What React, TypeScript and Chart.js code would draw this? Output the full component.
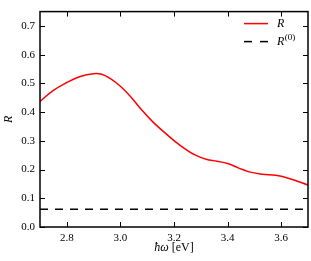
import React, { useEffect, useRef } from "react";
import { Chart, registerables } from "chart.js";

Chart.register(...registerables);

const redX = [2.70, 2.75, 2.80, 2.85, 2.90, 2.93, 2.96, 3.00, 3.04, 3.08, 3.12, 3.16, 3.20, 3.24, 3.28, 3.32, 3.36, 3.40, 3.44, 3.48, 3.53, 3.58, 3.63, 3.70];
const redY = [0.437, 0.476, 0.503, 0.524, 0.534, 0.532, 0.518, 0.49, 0.452, 0.407, 0.367, 0.333, 0.301, 0.273, 0.25, 0.236, 0.229, 0.221, 0.206, 0.192, 0.184, 0.18, 0.169, 0.146];
const baseX = [2.7, 3.7];
const baseY = [0.062, 0.062];
const xTicks = [2.8, 3.0, 3.2, 3.4, 3.6];
const yTicks = [0.0, 0.1, 0.2, 0.3, 0.4, 0.5, 0.6, 0.7];
const legendLabels = ["R", "R", "(0)"];

const SERIF = "'Liberation Serif', 'DejaVu Serif', serif";

const framePlugin = {
  id: "frame",
  afterDatasetsDraw(chart: any) {
    const { ctx, chartArea: a, scales } = chart;
    const xs = scales.x;
    const ys = scales.y;
    ctx.save();
    ctx.strokeStyle = "#000";
    ctx.lineWidth = 1;
    const tl = 5;
    ctx.beginPath();
    for (const v of xTicks) {
      const px = Math.round(xs.getPixelForValue(v)) + 0.5;
      ctx.moveTo(px, a.bottom);
      ctx.lineTo(px, a.bottom - tl);
      ctx.moveTo(px, a.top);
      ctx.lineTo(px, a.top + tl);
    }
    for (const v of yTicks) {
      const py = Math.round(ys.getPixelForValue(v)) + 0.5;
      ctx.moveTo(a.left, py);
      ctx.lineTo(a.left + tl, py);
      ctx.moveTo(a.right, py);
      ctx.lineTo(a.right - tl, py);
    }
    ctx.stroke();
    ctx.lineWidth = 1.5;
    ctx.strokeRect(a.left, a.top, a.right - a.left, a.bottom - a.top);

    // legend
    const lx0 = a.right - 64;
    const lx1 = a.right - 40;
    const tx = a.right - 31;
    const y1 = a.top + 12;
    const y2 = a.top + 30;
    ctx.lineWidth = 1.5;
    ctx.strokeStyle = "#ff0000";
    ctx.beginPath();
    ctx.moveTo(lx0, y1);
    ctx.lineTo(lx1, y1);
    ctx.stroke();
    ctx.strokeStyle = "#000";
    ctx.setLineDash([8, 8]);
    ctx.beginPath();
    ctx.moveTo(lx0, y2);
    ctx.lineTo(lx1, y2);
    ctx.stroke();
    ctx.setLineDash([]);
    ctx.fillStyle = "#000";
    ctx.textBaseline = "middle";
    ctx.textAlign = "left";
    ctx.font = "italic 12px " + SERIF;
    ctx.fillText(legendLabels[0], tx, y1);
    ctx.fillText(legendLabels[1], tx, y2);
    const w = ctx.measureText(legendLabels[1]).width;
    ctx.font = "9px " + SERIF;
    ctx.fillText(legendLabels[2], tx + w + 0.5, y2 - 4);

    // x title
    const cx = (a.left + a.right) / 2;
    const ty = 248;
    ctx.font = "italic 12px " + SERIF;
    const p1 = "ħω";
    const p2 = " [eV]";
    const w1 = ctx.measureText(p1).width;
    ctx.font = "12px " + SERIF;
    const w2 = ctx.measureText(p2).width;
    const sx = cx - (w1 + w2) / 2;
    ctx.font = "italic 12px " + SERIF;
    ctx.fillText(p1, sx, ty);
    ctx.font = "12px " + SERIF;
    ctx.fillText(p2, sx + w1, ty);
    ctx.restore();
  },
};

export default function App() {
  const ref = useRef<HTMLCanvasElement | null>(null);
  useEffect(() => {
    if (!ref.current) return;
    const chart = new Chart(ref.current, {
      type: "line",
      data: {
        datasets: [
          {
            data: redX.map((x, i) => ({ x, y: redY[i] })),
            borderColor: "#ff0000",
            borderWidth: 1.5,
            pointRadius: 0,
            tension: 0.4,
            fill: false,
          },
          {
            data: baseX.map((x, i) => ({ x, y: baseY[i] })),
            borderColor: "#000",
            borderWidth: 1.5,
            borderDash: [8, 7],
            pointRadius: 0,
            fill: false,
          },
        ],
      },
      options: {
        animation: false,
        responsive: true,
        maintainAspectRatio: false,
        layout: { padding: { top: 3, right: 3, left: 0, bottom: 0 } },
        plugins: { legend: { display: false }, tooltip: { enabled: false } },
        scales: {
          x: {
            type: "linear",
            min: 2.7,
            max: 3.7,
            afterBuildTicks: (s: any) => {
              s.ticks = xTicks.map((v) => ({ value: v }));
            },
            afterFit: (s: any) => {
              s.height = 34;
            },
            grid: { display: false, drawTicks: false },
            border: { display: false },
            ticks: {
              autoSkip: false,
              maxRotation: 0,
              padding: 5,
              color: "#000",
              font: { family: SERIF, size: 11 },
              callback: (v: any) => Number(v).toFixed(1),
            },
          },
          y: {
            type: "linear",
            min: 0,
            max: 0.75,
            afterBuildTicks: (s: any) => {
              s.ticks = yTicks.map((v) => ({ value: v }));
            },
            afterFit: (s: any) => {
              s.width = 40;
            },
            grid: { display: false, drawTicks: false },
            border: { display: false },
            title: {
              display: true,
              text: "R",
              color: "#000",
              font: { family: SERIF, size: 12, style: "italic" },
              padding: { top: 2, bottom: 0 },
            },
            ticks: {
              autoSkip: false,
              padding: 5,
              color: "#000",
              font: { family: SERIF, size: 11 },
              callback: (v: any) => Number(v).toFixed(1),
            },
          },
        },
      },
      plugins: [framePlugin],
    });
    return () => chart.destroy();
  }, []);
  return (
    <div style={{ position: "absolute", left: 0, top: 0, width: 311, height: 261 }}>
      <canvas ref={ref} />
    </div>
  );
}
